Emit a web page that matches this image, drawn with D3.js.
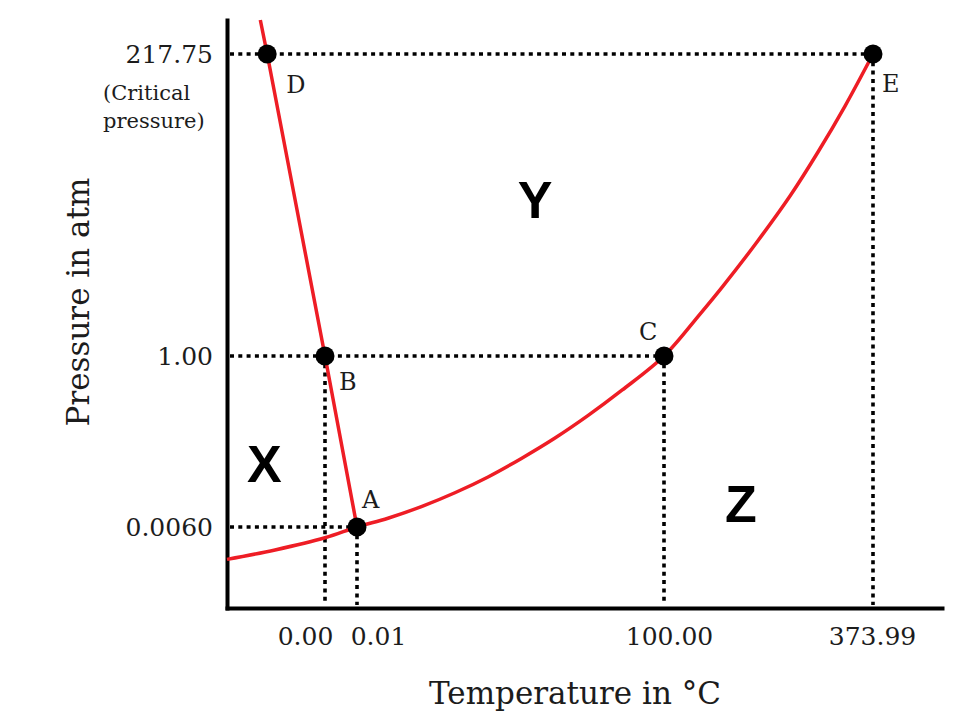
<!DOCTYPE html>
<html>
<head>
<meta charset="utf-8">
<script src="https://cdn.jsdelivr.net/npm/d3@7"></script>
<style>
  body { margin: 0; background: #fff; }
  text { font-family: "DejaVu Serif", serif; fill: #1c1c1c; }
  .region { font-family: "Liberation Sans", Arial, sans-serif; font-weight: bold; fill: #000; }
</style>
</head>
<body>
<div id="chart"></div>
<script>
const w = 964,
      h = 728;

// axis ticks (schematic phase diagram of water)
const xTicks = [0, 0.01, 100, 373.99];
const xTickLabels = ['0.00', '0.01', '100.00', '373.99'];
const yTicks = [0.006, 1, 217.75];
const yTickLabels = ['0.0060', '1.00', '217.75'];

// breakpoints of the non-linear (schematic) axes
const xBreaks = [-10, 0, 0.01, 100, 373.99, 400];
const yBreaks = [0, 0.006, 1, 217.75, 242];

// melting line (solid / liquid)
const meltT = [-6.6, -5.9, 0, 0.01];
const meltP = [242, 217.75, 1, 0.006];

// sublimation + vaporization curve
const vapT = [-10, -5.1, 0, 0.01, 10.1, 21.2, 31.9, 42.7, 53.7, 64.5, 75.2, 86.3, 100, 147.2, 177.3, 221.9, 265.2, 301.9, 337.3, 373.99];
const vapP = [0.0036, 0.0043, 0.0052, 0.006, 0.057, 0.126, 0.205, 0.297, 0.406, 0.523, 0.653, 0.801, 1.00, 31.1, 51.2, 82.8, 115.8, 147.4, 180.4, 217.75];

// labelled points
const ptNames = ['D', 'B', 'A', 'C', 'E'];
const ptT = [-5.9, 0, 0.01, 100, 373.99];
const ptP = [217.75, 1, 0.006, 1, 217.75];

// regions
const regionNames = ['X', 'Y', 'Z'];
const regionT = [-6.2, 58, 200.9];
const regionP = [0.268, 100, 0.035];

// layout
const xRange = [227, 325, 357, 664, 873, 942];
const yRange = [608, 527, 356, 54, 20];
const xLabelNudge = [-20, 21, 5, -1];
const ptLabelOffset = {D: [19, 39], B: [14, 34], A: [5, -19], C: [-25, -16], E: [9, 38]};
const red = '#ee1d25';

const svg = d3.select('#chart').append('svg')
              .attr('width', w)
              .attr('height', h);

const x = d3.scaleLinear().domain(xBreaks).range(xRange);
const y = d3.scaleLinear().domain(yBreaks).range(yRange);

const points = ptNames.map((n, i) => ({name: n, t: ptT[i], p: ptP[i]}));
const byName = Object.fromEntries(points.map(d => [d.name, d]));

// dotted guide lines
const guides = svg.append('g')
    .attr('stroke', '#000')
    .attr('stroke-width', 3.6)
    .attr('stroke-dasharray', '4 4.3');

['A', 'C', 'E'].forEach(n => {
    const d = byName[n];
    guides.append('line')
        .attr('x1', x(xBreaks[0]) + 3).attr('x2', x(d.t))
        .attr('y1', y(d.p)).attr('y2', y(d.p));
});
['B', 'A', 'C', 'E'].forEach(n => {
    const d = byName[n];
    guides.append('line')
        .attr('x1', x(d.t)).attr('x2', x(d.t))
        .attr('y1', y(d.p)).attr('y2', y(yBreaks[0]) - 3);
});

// axes
const xAxis = d3.axisBottom(x)
    .tickValues(xTicks)
    .tickSize(0)
    .tickSizeOuter(0)
    .tickPadding(19)
    .tickFormat((d, i) => xTickLabels[i]);
const yAxis = d3.axisLeft(y)
    .tickValues(yTicks)
    .tickSize(0)
    .tickSizeOuter(0)
    .tickPadding(14)
    .tickFormat((d, i) => yTickLabels[i]);

const gx = svg.append('g').attr('transform', `translate(0,${yRange[0]})`).call(xAxis);
const gy = svg.append('g').attr('transform', `translate(${xRange[0]},0)`).call(yAxis);

[gx, gy].forEach(g => {
    g.select('.domain').attr('stroke', '#000').attr('stroke-width', 4).attr('stroke-linecap', 'square');
    g.selectAll('text').attr('font-family', '"DejaVu Serif", serif').attr('font-size', 25).attr('fill', '#1c1c1c');
});
gx.selectAll('.tick text').attr('dx', (d, i) => xLabelNudge[i]);

svg.append('text')
    .attr('x', 103).attr('y', 100)
    .attr('font-size', 21)
    .text('(Critical');
svg.append('text')
    .attr('x', 103).attr('y', 128)
    .attr('font-size', 21)
    .text('pressure)');

// axis titles
svg.append('text')
    .attr('transform', 'translate(89,302) rotate(-90)')
    .attr('text-anchor', 'middle')
    .attr('font-size', 31)
    .text('Pressure in atm');
svg.append('text')
    .attr('x', 575).attr('y', 704)
    .attr('text-anchor', 'middle')
    .attr('font-size', 31)
    .text('Temperature in °C');

// phase boundaries
const line = d3.line()
    .x(d => x(d[0]))
    .y(d => y(d[1]));

svg.append('path')
    .datum(meltT.map((t, i) => [t, meltP[i]]))
    .attr('d', line.curve(d3.curveLinear))
    .attr('fill', 'none')
    .attr('stroke', red)
    .attr('stroke-width', 3.5);

svg.append('path')
    .datum(vapT.map((t, i) => [t, vapP[i]]))
    .attr('d', line.curve(d3.curveCatmullRom.alpha(0.5)))
    .attr('fill', 'none')
    .attr('stroke', red)
    .attr('stroke-width', 3.5);

// points and labels
svg.selectAll('circle.pt')
   .data(points)
   .enter()
   .append('circle')
   .attr('class', 'pt')
   .attr('cx', d => x(d.t))
   .attr('cy', d => y(d.p))
   .attr('r', 9.5)
   .attr('fill', '#000');

svg.selectAll('text.ptlabel')
   .data(points)
   .enter()
   .append('text')
   .attr('class', 'ptlabel')
   .attr('x', d => x(d.t) + ptLabelOffset[d.name][0])
   .attr('y', d => y(d.p) + ptLabelOffset[d.name][1])
   .attr('font-size', 24)
   .text(d => d.name);

// region letters
svg.selectAll('text.region')
   .data(regionNames)
   .enter()
   .append('text')
   .attr('class', 'region')
   .attr('x', (d, i) => x(regionT[i]))
   .attr('y', (d, i) => y(regionP[i]))
   .attr('text-anchor', 'middle')
   .attr('font-size', 52)
   .text(d => d);
</script>
</body>
</html>
